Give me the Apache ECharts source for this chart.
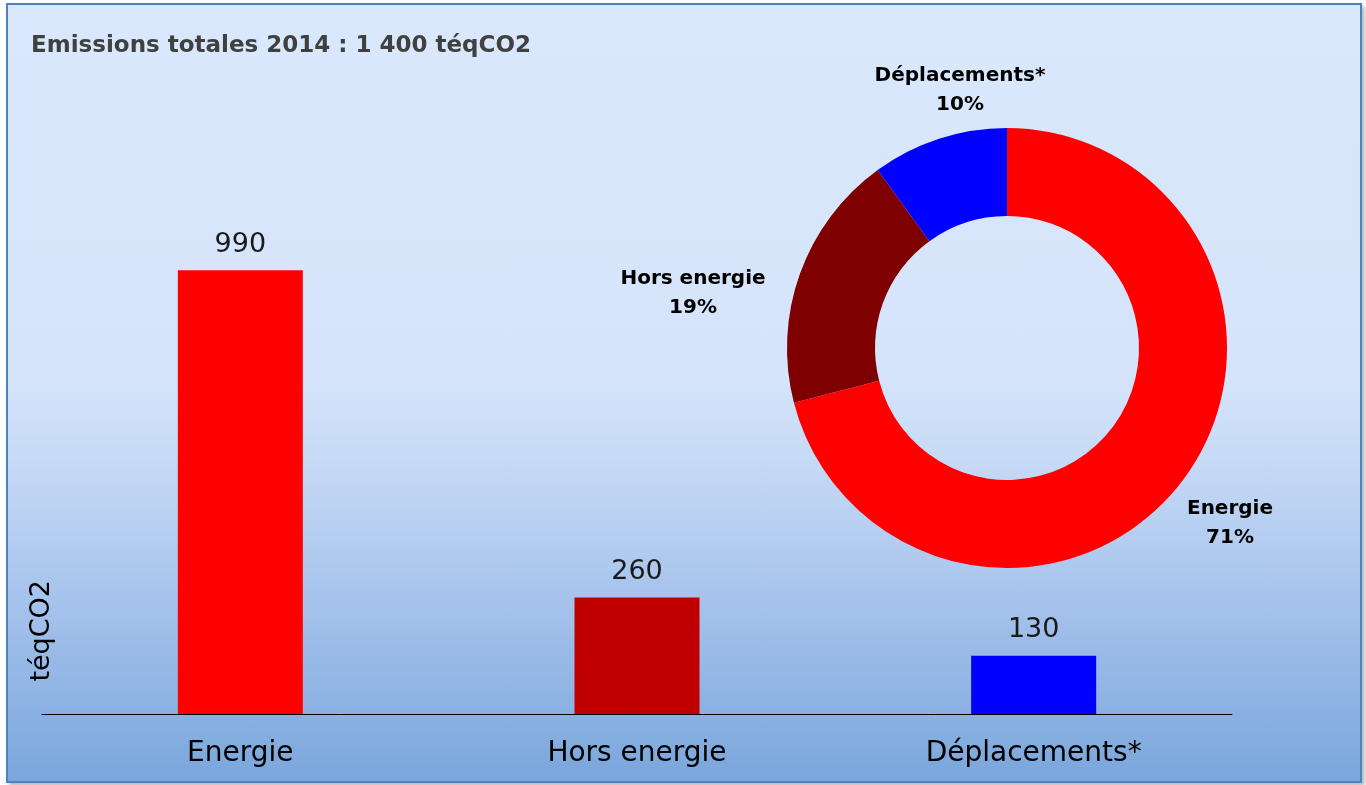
<!DOCTYPE html>
<html>
<head>
<meta charset="utf-8">
<script src="https://cdn.jsdelivr.net/npm/echarts@6/dist/echarts.min.js"></script>
<style>
html,body{margin:0;padding:0;width:1366px;height:785px;overflow:hidden;background:#ffffff;}
#box{position:absolute;left:6px;top:3px;width:1352px;height:776px;border:2px solid #4f81bd;
  background:linear-gradient(to bottom,#dae8fd 0%,#d5e4fa 48%,#c4d8f5 60%,#a9c5ed 75%,#7aa6dc 100%);
  box-shadow:3px 3px 4px rgba(0,0,0,0.28);}
#chart{position:absolute;left:0;top:0;width:1366px;height:785px;}
</style>
</head>
<body>
<div id="box"></div>
<div id="chart"></div>
<script>
const titleText = 'Emissions totales 2014 : 1 400 téqCO2';
const categories = ['Energie', 'Hors energie', 'Déplacements*'];
const barValues = [990, 260, 130];
const barColors = ['#ff0000', '#c00000', '#0000ff'];
const pieNames = ['Energie', 'Hors energie', 'Déplacements*'];
const piePercents = [71, 19, 10];
const pieColors = ['#ff0000', '#7f0000', '#0000ff'];
const yAxisName = 'téqCO2';

// layout constants
const pieCenter = [1007, 348];
const pieLabelOffsets = [[223, 175], [-314, -55], [-47, -258]];

const chart = echarts.init(document.getElementById('chart'));
const font = 'DejaVu Sans';

chart.setOption({
  backgroundColor: 'transparent',
  animation: false,
  title: {
    text: titleText,
    left: 26, top: 30,
    textStyle: { fontFamily: font, fontWeight: 'bold', fontSize: 23, color: '#404040' }
  },
  grid: { left: 42, right: 134, top: 176, bottom: 71 },
  xAxis: {
    type: 'category',
    data: categories,
    axisLine: { show: true, lineStyle: { color: '#000000', width: 1 } },
    axisTick: { show: false },
    axisLabel: { fontFamily: font, fontSize: 28, color: '#000000', margin: 26 }
  },
  yAxis: {
    type: 'value',
    min: 0, max: 1200,
    axisLine: { show: false },
    axisTick: { show: false },
    axisLabel: { show: false },
    splitLine: { show: false },
    name: yAxisName,
    nameLocation: 'start',
    nameRotate: 90,
    nameGap: -134,
    nameTextStyle: { fontFamily: font, fontSize: 27, color: '#000000' }
  },
  series: [
    {
      type: 'bar',
      barWidth: 125,
      data: barValues.map((v, i) => ({ value: v, itemStyle: { color: barColors[i] } })),
      label: {
        show: true, position: 'top', distance: 12,
        fontFamily: font, fontSize: 27, color: '#1a1a1a'
      }
    },
    {
      type: 'pie',
      center: pieCenter,
      radius: [132, 220],
      startAngle: 90,
      clockwise: true,
      avoidLabelOverlap: false,
      data: pieNames.map((n, i) => ({ name: n, value: piePercents[i], itemStyle: { color: pieColors[i] } })),
      label: {
        show: true,
        position: 'outside',
        formatter: '{b}\n{d}%',
        fontFamily: font, fontWeight: 'bold', fontSize: 20, lineHeight: 29, color: '#000000'
      },
      labelLine: { show: false },
      labelLayout: function (params) {
        const o = pieLabelOffsets[params.dataIndex];
        return { x: pieCenter[0] + o[0], y: pieCenter[1] + o[1], align: 'center', verticalAlign: 'middle' };
      },
      emphasis: { disabled: true }
    }
  ]
});
</script>
</body>
</html>
